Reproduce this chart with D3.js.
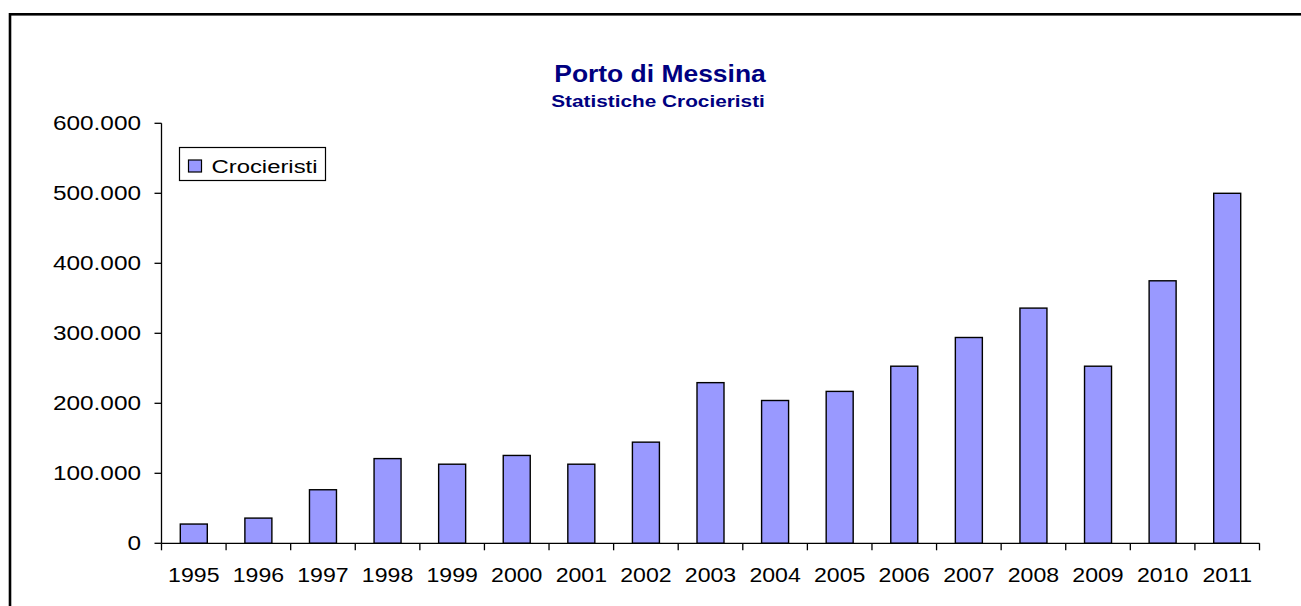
<!DOCTYPE html>
<html>
<head>
<meta charset="utf-8">
<script src="https://cdn.jsdelivr.net/npm/d3@7"></script>
<style>
  html, body { margin: 0; padding: 0; background: #fff; }
  svg { display: block; }
  text { font-family: "Liberation Sans", Arial, sans-serif; }
</style>
</head>
<body>
<svg id="chart" width="1301" height="606"></svg>
<script>
// ---- data ----
const years = ["1995","1996","1997","1998","1999","2000","2001","2002","2003","2004","2005","2006","2007","2008","2009","2010","2011"];
const crocieristi = [27500, 36000, 76500, 121000, 113000, 125500, 113000, 144500, 229500, 204000, 217000, 253000, 294000, 336000, 253000, 375000, 500000];
const yTicks = [0, 100000, 200000, 300000, 400000, 500000, 600000];
const titleText = "Porto di Messina";
const subtitleText = "Statistiche Crocieristi";
const seriesName = "Crocieristi";

// ---- layout ----
const W = 1301, H = 606;
const plot = { left: 161.5, right: 1259.5, top: 123.3, bottom: 543.3 };
const barFill = "#9999FF";
const navy = "#000080";

const svg = d3.select("#chart");
const it = d3.formatLocale({ decimal: ",", thousands: ".", grouping: [3], currency: ["", "€"] });
const fmt = it.format(",");

// outer border (only top and left visible in frame)
svg.append("rect")
  .attr("x", 10).attr("y", 14.3)
  .attr("width", W + 20).attr("height", H + 20)
  .attr("fill", "none").attr("stroke", "#000").attr("stroke-width", 2.6);

const x = d3.scaleBand().domain(years).range([plot.left, plot.right])
  .paddingInner(0.582).paddingOuter(0.291);
const y = d3.scaleLinear().domain([0, 600000]).range([plot.bottom, plot.top]);

function stretchedText(g, str, tx, ty, size, sx, opts = {}) {
  return g.append("text")
    .attr("transform", `translate(${tx},${ty}) scale(${sx},1)`)
    .attr("text-anchor", opts.anchor || "start")
    .attr("font-size", size)
    .attr("font-weight", opts.weight || "normal")
    .attr("fill", opts.fill || "#000")
    .attr("dy", opts.dy || null)
    .text(str);
}

// bars
svg.append("g").selectAll("rect")
  .data(years.map((yr, i) => ({ yr, v: crocieristi[i] })))
  .join("rect")
  .attr("x", d => x(d.yr))
  .attr("y", d => y(d.v))
  .attr("width", x.bandwidth())
  .attr("height", d => y(0) - y(d.v))
  .attr("fill", barFill)
  .attr("stroke", "#000")
  .attr("stroke-width", 1.4);

// y axis
const yAxisG = svg.append("g");
yAxisG.append("line")
  .attr("x1", plot.left).attr("x2", plot.left)
  .attr("y1", y(600000)).attr("y2", y(0))
  .attr("stroke", "#000").attr("stroke-width", 1.3);
yAxisG.selectAll("line.tick").data(yTicks).join("line")
  .attr("class", "tick")
  .attr("x1", plot.left - 7).attr("x2", plot.left)
  .attr("y1", d => y(d)).attr("y2", d => y(d))
  .attr("stroke", "#000").attr("stroke-width", 1.3);
yTicks.forEach(t => stretchedText(yAxisG, fmt(t), 141, y(t), 19.5, 1.25, { anchor: "end", dy: "0.35em" }));

// x axis
const xAxisG = svg.append("g");
xAxisG.append("line")
  .attr("x1", plot.left).attr("x2", plot.right)
  .attr("y1", y(0)).attr("y2", y(0))
  .attr("stroke", "#000").attr("stroke-width", 1.3);
const half = x.step() * x.paddingInner() / 2;
const bounds = years.map(yr => x(yr) - half).concat([x(years[years.length - 1]) + x.bandwidth() + half]);
xAxisG.selectAll("line.tick").data(bounds).join("line")
  .attr("class", "tick")
  .attr("x1", d => d).attr("x2", d => d)
  .attr("y1", y(0)).attr("y2", y(0) + 7)
  .attr("stroke", "#000").attr("stroke-width", 1.3);
years.forEach(yr => stretchedText(xAxisG, yr, x(yr) + x.bandwidth() / 2, 581.5, 21, 1.1, { anchor: "middle" }));

// titles
stretchedText(svg, titleText, 660, 82.3, 23, 1.15, { anchor: "middle", weight: "bold", fill: navy });
stretchedText(svg, subtitleText, 658, 107.3, 16, 1.3, { anchor: "middle", weight: "bold", fill: navy });

// legend
const lg = svg.append("g");
lg.append("rect").attr("x", 179.5).attr("y", 147.5).attr("width", 146).attr("height", 33)
  .attr("fill", "#fff").attr("stroke", "#000").attr("stroke-width", 1.2);
lg.append("rect").attr("x", 188.5).attr("y", 160).attr("width", 13).attr("height", 12)
  .attr("fill", barFill).attr("stroke", "#000").attr("stroke-width", 1.2);
stretchedText(lg, seriesName, 211.5, 173.3, 18.8, 1.27, {});
</script>
</body>
</html>
